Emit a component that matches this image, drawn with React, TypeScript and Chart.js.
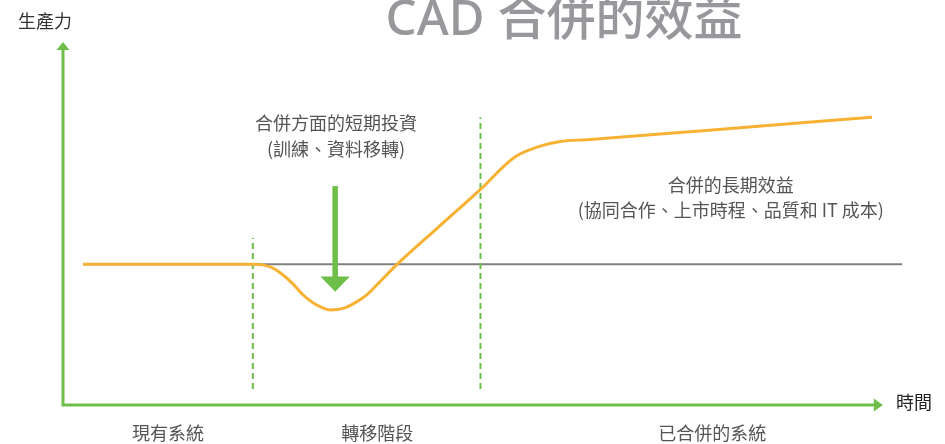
import React, { useEffect, useRef } from 'react';
import { Chart, registerables } from 'chart.js';

Chart.register(...registerables);

// ---- data (time 0..100, productivity 0..100) ----
const timeX = [2.4, 22.6, 23.8, 25.0, 26.2, 27.4, 28.6, 29.8, 31.0, 31.8, 32.7, 33.7, 34.8, 36.2, 37.7, 39.8, 44.5, 49.6, 53.8, 56.8, 59.2, 62.4, 75.8, 96.3];
const productivity = [38.8, 38.8, 38.6, 37.7, 35.8, 33.3, 30.3, 28.1, 26.7, 26.2, 26.3, 26.9, 28.2, 30.4, 33.9, 38.8, 48.6, 59.2, 68.3, 71.3, 72.6, 73.1, 75.5, 79.3];

const baselineX = [2.4, 99.9];
const baselineLevel = 38.8;

const phaseBoundaryX = [22.6, 49.7];
const phaseBoundaryTop = [46.0, 79.3];
const phaseBoundaryBottom = 4.4;

const phaseLabels = ['現有系統', '轉移階段', '已合併的系統'];
const phaseLabelX = [12.5, 37.4, 77.3];

const shortTermLines = ['合併方面的短期投資', '(訓練、資料移轉)'];
const longTermLines = ['合併的長期效益', '(協同合作、上市時程、品質和 IT 成本)'];

const titleText = 'CAD 合併的效益';
const yAxisLabel = '生產力';
const xAxisLabel = '時間';

const dropArrow = { x: 32.4, top: 60.3, headBase: 35.4, tip: 31.2 };
const axisEnds = { xEnd: 97.6, yEnd: 100 };

const GREEN = '#6dbf4a';
const ORANGE = '#f8b133';
const CJK = '"Noto Sans CJK TC", "Noto Sans", sans-serif';

const decorPlugin = {
  id: 'decor',
  beforeDatasetsDraw(chart: any) {
    const { ctx, scales } = chart;
    const xs = scales.x;
    const ys = scales.y;
    const px = (v: number) => xs.getPixelForValue(v);
    const py = (v: number) => ys.getPixelForValue(v);
    ctx.save();
    const ox = px(0);
    const oy = py(0);
    const yTip = py(axisEnds.yEnd);
    const xTip = px(axisEnds.xEnd);
    ctx.strokeStyle = GREEN;
    ctx.fillStyle = GREEN;
    ctx.lineWidth = 3;
    ctx.beginPath();
    ctx.moveTo(ox, oy);
    ctx.lineTo(ox, yTip + 6);
    ctx.moveTo(ox - 1.5, oy);
    ctx.lineTo(xTip - 7, oy);
    ctx.stroke();
    ctx.beginPath();
    ctx.moveTo(ox, yTip);
    ctx.lineTo(ox - 6.5, yTip + 8);
    ctx.lineTo(ox + 6.5, yTip + 8);
    ctx.closePath();
    ctx.fill();
    ctx.beginPath();
    ctx.moveTo(xTip, oy);
    ctx.lineTo(xTip - 9, oy - 6.5);
    ctx.lineTo(xTip - 9, oy + 6.5);
    ctx.closePath();
    ctx.fill();
    ctx.restore();
  },
  afterDatasetsDraw(chart: any) {
    const { ctx, scales } = chart;
    const xs = scales.x;
    const ys = scales.y;
    const px = (v: number) => xs.getPixelForValue(v);
    const py = (v: number) => ys.getPixelForValue(v);
    ctx.save();
    // green drop arrow
    const ax = px(dropArrow.x);
    ctx.fillStyle = GREEN;
    ctx.fillRect(ax - 2.75, py(dropArrow.top), 5.5, py(dropArrow.headBase) - py(dropArrow.top) + 1);
    ctx.beginPath();
    ctx.moveTo(ax - 14.7, py(dropArrow.headBase));
    ctx.lineTo(ax + 14.7, py(dropArrow.headBase));
    ctx.lineTo(ax, py(dropArrow.tip));
    ctx.closePath();
    ctx.fill();

    ctx.textAlign = 'center';
    // title
    ctx.fillStyle = '#98989c';
    ctx.font = `500 49px "Noto Sans", "Noto Sans CJK TC", sans-serif`;
    ctx.textBaseline = 'alphabetic';
    ctx.fillText(titleText, 564, 35);
    ctx.textBaseline = 'middle';

    // annotations
    ctx.fillStyle = '#555555';
    ctx.font = `18px ${CJK}`;
    ctx.fillText(shortTermLines[0], px(32.5), 123);
    ctx.fillText(shortTermLines[1], px(32.5), 149);
    ctx.fillText(longTermLines[0], px(79.5), 185);
    ctx.fillText(longTermLines[1], px(79.5), 210);

    // phase labels
    phaseLabels.forEach((t, i) => ctx.fillText(t, px(phaseLabelX[i]), 433));

    // axis labels
    ctx.fillStyle = '#333333';
    ctx.fillText(yAxisLabel, 45, 21);
    ctx.fillStyle = '#222222';
    ctx.fillText(xAxisLabel, 914, 402);
    ctx.restore();
  },
};

export default function App() {
  const ref = useRef<HTMLCanvasElement>(null);
  useEffect(() => {
    if (!ref.current) return;
    const curve = timeX.map((x, i) => ({ x, y: productivity[i] }));
    const datasets: any[] = [
      {
        label: 'productivity',
        data: curve,
        borderColor: ORANGE,
        borderWidth: 3,
        pointRadius: 0,
        cubicInterpolationMode: 'monotone',
        fill: false,
        clip: false,
      },
      ...phaseBoundaryX.map((x, i) => ({
        label: 'phase' + i,
        data: [
          { x, y: phaseBoundaryBottom },
          { x, y: phaseBoundaryTop[i] },
        ],
        borderColor: GREEN,
        borderWidth: 2,
        borderDash: [6, 4],
        pointRadius: 0,
        fill: false,
        clip: false,
      })),
      {
        label: 'baseline',
        data: baselineX.map((x) => ({ x, y: baselineLevel })),
        borderColor: '#7f7f7f',
        borderWidth: 2,
        pointRadius: 0,
        fill: false,
        clip: false,
      },
    ];
    const chart = new Chart(ref.current, {
      type: 'line',
      data: { datasets },
      options: {
        animation: false,
        responsive: false,
        events: [],
        layout: { padding: { left: 63, right: 42, top: 42, bottom: 39 } },
        scales: {
          x: { type: 'linear', min: 0, max: 100, display: false },
          y: { type: 'linear', min: 0, max: 100, display: false },
        },
        plugins: { legend: { display: false }, tooltip: { enabled: false }, title: { display: false } },
      },
      plugins: [decorPlugin],
    });
    return () => chart.destroy();
  }, []);
  return (
    <div style={{ position: 'absolute', left: 0, top: 0, width: 945, height: 444, background: '#fff' }}>
      <canvas ref={ref} width={945} height={444} style={{ display: 'block' }} />
    </div>
  );
}
